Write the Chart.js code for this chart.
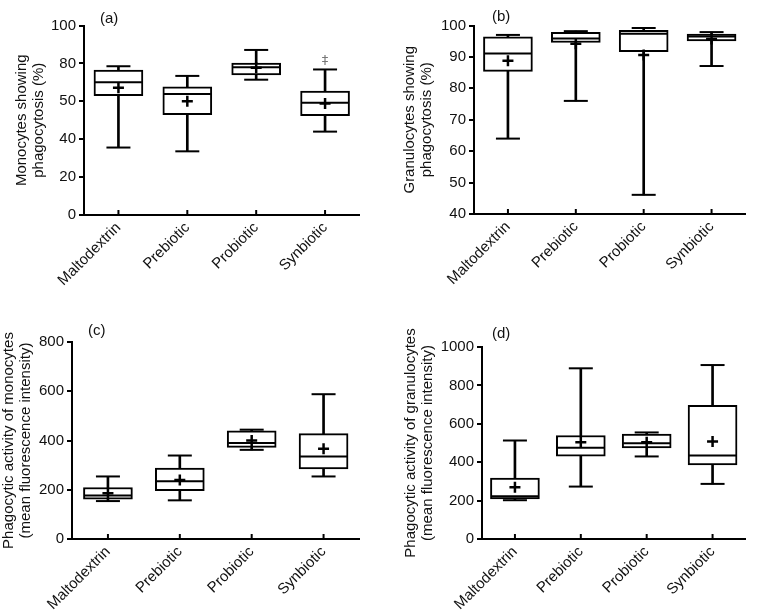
<!DOCTYPE html>
<html>
<head>
<meta charset="utf-8">
<script src="https://cdn.jsdelivr.net/npm/chart.js@4.4.1/dist/chart.umd.min.js"></script>
<style>
  body { margin: 0; background: #fff; }
  canvas { position: absolute; }
</style>
</head>
<body>
<canvas id="chartA" width="385" height="300" style="left:0;top:0"></canvas>
<canvas id="chartB" width="386" height="300" style="left:385px;top:0"></canvas>
<canvas id="chartC" width="385" height="313" style="left:0;top:300px"></canvas>
<canvas id="chartD" width="386" height="313" style="left:385px;top:300px"></canvas>
<script>
const groups = ['Maltodextrin', 'Prebiotic', 'Probiotic', 'Synbiotic'];

// (a) monocytes showing phagocytosis (%)
const monoPctMin = [35.6, 33.6, 71.4, 44.0];
const monoPctQ1 = [63.0, 52.9, 73.9, 52.4];
const monoPctMedian = [70.1, 63.9, 78.0, 59.3];
const monoPctQ3 = [76.5, 67.7, 80.2, 65.4];
const monoPctMax = [78.5, 73.4, 87.1, 76.8];
const monoPctMean = [67.2, 60.0, 77.7, 58.8];
const monoPctTicks = ['0', '20', '40', '50', '80', '100'];

// (b) granulocytes showing phagocytosis (%)
const granPctMin = [64.0, 76.0, 46.1, 87.1];
const granPctQ1 = [85.4, 94.6, 91.7, 95.1];
const granPctMedian = [91.1, 95.9, 97.4, 96.5];
const granPctQ3 = [96.4, 97.8, 98.5, 97.3];
const granPctMax = [97.0, 98.2, 99.2, 97.9];
const granPctMean = [88.8, 94.2, 90.6, 95.7];

// (c) phagocytic activity of monocytes (MFI)
const monoMfiMin = [154, 157, 362, 254];
const monoMfiQ1 = [162, 196, 372, 285];
const monoMfiMedian = [177, 235, 390, 335];
const monoMfiQ3 = [209, 288, 439, 428];
const monoMfiMax = [254, 339, 444, 588];
const monoMfiMean = [186, 240, 400, 367];

// (d) phagocytic activity of granulocytes (MFI)
const granMfiMin = [202, 273, 430, 287];
const granMfiQ1 = [209, 431, 475, 386];
const granMfiMedian = [223, 475, 499, 435];
const granMfiQ3 = [317, 539, 546, 696];
const granMfiMax = [513, 889, 555, 906];
const granMfiMean = [270, 504, 504, 508];

Chart.defaults.font.family = "'Liberation Sans', Arial, sans-serif";
Chart.defaults.font.size = 15;
Chart.defaults.color = '#111';

// inward x ticks, panel letter and the odd significance mark
const panelDecor = {
    id: 'panelDecor',
    afterDraw(chart, args, opts) {
        const ctx = chart.ctx;
        const area = chart.chartArea;
        const x = chart.scales.x;
        const y = chart.scales.y;
        ctx.save();
        ctx.strokeStyle = '#000';
        ctx.lineWidth = 2;
        x.ticks.forEach((t, i) => {
            const px = x.getPixelForTick(i);
            ctx.beginPath();
            ctx.moveTo(px, area.bottom);
            ctx.lineTo(px, area.bottom - 5);
            ctx.stroke();
        });
        ctx.fillStyle = '#111';
        ctx.font = "15px 'Liberation Sans', Arial, sans-serif";
        ctx.textBaseline = 'middle';
        ctx.textAlign = 'left';
        ctx.fillText(opts.tag, area.left + opts.tagDx, area.top - opts.tagDy);
        (opts.marks || []).forEach(m => {
            ctx.fillStyle = '#777';
            ctx.font = "13px 'DejaVu Sans', sans-serif";
            ctx.textAlign = 'center';
            ctx.fillText(m.text, x.getPixelForValue(m.index), y.getPixelForValue(m.value));
        });
        ctx.restore();
    }
};

function makePanel(id, p) {
    const ctx = document.getElementById(id).getContext('2d');
    return new Chart(ctx, {
        type: 'bar',
        data: {
            labels: groups,
            datasets: [
                {
                    label: 'whisker',
                    data: groups.map((g, i) => [p.min[i], p.max[i]]),
                    backgroundColor: '#000',
                    barThickness: 2,
                    grouped: false,
                    order: 5
                },
                {
                    label: 'box',
                    data: groups.map((g, i) => [p.q1[i], p.q3[i]]),
                    backgroundColor: '#fff',
                    borderColor: '#000',
                    borderWidth: 2,
                    borderSkipped: false,
                    barThickness: 49,
                    grouped: false,
                    order: 4
                },
                {
                    type: 'line',
                    label: 'min',
                    data: p.min,
                    showLine: false,
                    pointStyle: 'line',
                    pointRadius: 12,
                    pointBorderWidth: 2,
                    pointBorderColor: '#000',
                    clip: false,
                    order: 3
                },
                {
                    type: 'line',
                    label: 'max',
                    data: p.max,
                    showLine: false,
                    pointStyle: 'line',
                    pointRadius: 12,
                    pointBorderWidth: 2,
                    pointBorderColor: '#000',
                    clip: false,
                    order: 3
                },
                {
                    type: 'line',
                    label: 'median',
                    data: p.median,
                    showLine: false,
                    pointStyle: 'line',
                    pointRadius: 23.5,
                    pointBorderWidth: 2,
                    pointBorderColor: '#000',
                    clip: false,
                    order: 2
                },
                {
                    type: 'line',
                    label: 'mean',
                    data: p.mean,
                    showLine: false,
                    pointStyle: 'cross',
                    pointRadius: 5.5,
                    pointBorderWidth: 2.5,
                    pointBorderColor: '#000',
                    clip: false,
                    order: 1
                }
            ]
        },
        options: {
            responsive: false,
            animation: false,
            events: [],
            layout: {
                padding: { left: 0, top: p.top, right: p.right, bottom: 0 }
            },
            scales: {
                x: {
                    grid: { display: false, drawTicks: false },
                    border: { display: true, color: '#000', width: 2 },
                    ticks: {
                        autoSkip: false,
                        maxRotation: 45,
                        minRotation: 45,
                        padding: 4,
                        color: '#111'
                    },
                    afterFit: function (scale) { scale.height = p.xHeight; }
                },
                y: {
                    min: p.yMin,
                    max: p.yMax,
                    grid: {
                        drawOnChartArea: false,
                        drawTicks: true,
                        tickLength: 5,
                        color: '#000',
                        lineWidth: 2
                    },
                    border: { display: true, color: '#000', width: 2 },
                    ticks: {
                        stepSize: p.step,
                        padding: 3,
                        color: '#111',
                        callback: p.tickLabels ? function (v, i) { return p.tickLabels[i]; } : function (v) { return v; }
                    },
                    title: {
                        display: true,
                        text: p.title,
                        color: '#111',
                        font: { size: 15, lineHeight: 1.15 },
                        padding: { top: p.titlePad, bottom: 0 }
                    },
                    afterFit: function (scale) { scale.width = p.yWidth; }
                }
            },
            plugins: {
                legend: { display: false },
                tooltip: { enabled: false },
                panelDecor: { tag: p.tag, tagDx: p.tagDx, tagDy: p.tagDy, marks: p.marks }
            }
        },
        plugins: [panelDecor]
    });
}

makePanel('chartA', {
    min: monoPctMin, q1: monoPctQ1, median: monoPctMedian, q3: monoPctQ3, max: monoPctMax, mean: monoPctMean,
    yMin: 0, yMax: 100, step: 20, tickLabels: monoPctTicks,
    title: ['Monocytes showing', 'phagocytosis (%)'], titlePad: 13,
    top: 17, right: 3, yWidth: 84, xHeight: 85,
    tag: '(a)', tagDx: 16, tagDy: 7,
    marks: [{ index: 3, value: 81.3, text: '‡' }]
});

makePanel('chartB', {
    min: granPctMin, q1: granPctQ1, median: granPctMedian, q3: granPctQ3, max: granPctMax, mean: granPctMean,
    yMin: 40, yMax: 100, step: 10,
    title: ['Granulocytes showing', 'phagocytosis (%)'], titlePad: 16,
    top: 18, right: 4, yWidth: 89, xHeight: 86,
    tag: '(b)', tagDx: 18, tagDy: 9
});

makePanel('chartC', {
    min: monoMfiMin, q1: monoMfiQ1, median: monoMfiMedian, q3: monoMfiQ3, max: monoMfiMax, mean: monoMfiMean,
    yMin: 0, yMax: 800, step: 200,
    title: ['Phagocytic activity of monocytes', '(mean fluorescence intensity)'], titlePad: 0,
    top: 42, right: 17, yWidth: 72, xHeight: 74,
    tag: '(c)', tagDx: 16, tagDy: 11
});

makePanel('chartD', {
    min: granMfiMin, q1: granMfiQ1, median: granMfiMedian, q3: granMfiQ3, max: granMfiMax, mean: granMfiMean,
    yMin: 0, yMax: 1000, step: 200,
    title: ['Phagocytic activity of granulocytes', '(mean fluorescence intensity)'], titlePad: 17,
    top: 47, right: 3, yWidth: 97, xHeight: 74,
    tag: '(d)', tagDx: 10, tagDy: 13
});
</script>
</body>
</html>
